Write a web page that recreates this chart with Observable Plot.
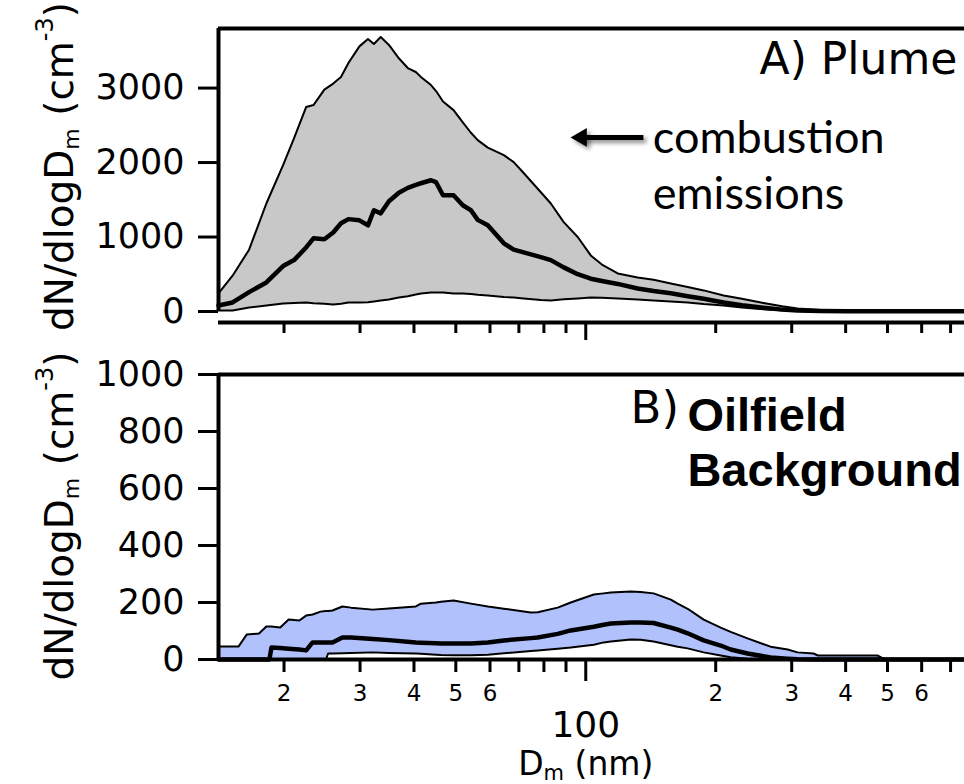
<!DOCTYPE html>
<html><head><meta charset="utf-8">
<script src="https://cdn.jsdelivr.net/npm/d3@7"></script>
<script src="https://cdn.jsdelivr.net/npm/@observablehq/plot@0.6"></script>
<style>
body{margin:0;background:#fff;}
#wrap{width:964px;height:784px;position:relative;overflow:hidden;background:#fff;}
#wrap svg{display:block;position:absolute;left:0;}
</style></head><body><div id="wrap"></div>
<script>
// ---------- Panel A: Plume ----------
const diamA = [14.1, 15.2, 16.6, 18.2, 19.9, 21.1, 22.5, 23.4, 24.8, 26.0, 27.1, 28.2, 29.9, 31.3, 32.3, 33.5, 35.0, 36.9, 38.7, 40.4, 41.5, 43.8, 45.0, 46.7, 49.4, 51.9, 54.2, 56.2, 59.3, 64.6, 68.1, 71.8, 78.7, 83.0, 88.9, 95.8, 102.7, 109, 118.6, 131.9, 143.6, 157.4, 172.2, 187.6, 208.6, 230, 258, 285, 309.5, 350, 404, 500, 600, 754];
const upperA = [242, 480, 830, 1450, 1964, 2328, 2745, 2772, 2980, 3060, 3148, 3337, 3560, 3660, 3592, 3686, 3579, 3400, 3269, 3216, 3150, 3040, 2960, 2820, 2704, 2540, 2400, 2301, 2200, 2099, 2005, 1860, 1601, 1450, 1200, 1000, 753, 630, 511, 455, 425, 377, 330, 283, 215, 170, 115, 70, 40, 20, 8, 5, 5, 5];
const medianA = [81, 121, 260, 390, 610, 690, 860, 982, 969, 1060, 1184, 1240, 1224, 1157, 1359, 1318, 1480, 1595, 1660, 1700, 1722, 1762, 1736, 1561, 1561, 1426, 1360, 1230, 1157, 915, 830, 794, 730, 690, 592, 500, 440, 410, 370, 309, 275, 245, 205, 170, 121, 85, 50, 25, 12, 5, 3, 2, 2, 2];
const lowerA = [13, 13, 54, 81, 108, 115, 121, 110, 105, 94, 105, 121, 121, 125, 135, 148, 160, 188, 205, 229, 240, 256, 256, 256, 242, 242, 235, 225, 215, 195, 188, 175, 155, 148, 165, 175, 188, 185, 175, 160, 148, 135, 121, 100, 81, 55, 30, 15, 8, 3, 2, 2, 2, 2];

// ---------- Panel B: Oilfield Background ----------
const diamB = [14.1, 15.7, 16.4, 17.5, 18.2, 18.5, 18.7, 19.6, 20.5, 21.7, 22.5, 23.3, 24.3, 25.0, 25.3, 25.9, 27.3, 28.6, 32.1, 35.0, 40.4, 41.5, 45.0, 46.2, 49.4, 54.2, 59.3, 64.6, 74.6, 77.4, 86.1, 92.3, 104.4, 110, 114.3, 127.1, 134, 143.6, 157.4, 163.3, 172.2, 187.6, 205.4, 216.6, 237, 268, 293.5, 309.5, 337, 345, 474, 487, 494, 754];
const upperB = [46, 46, 88, 91, 116, 116, 116, 112, 140, 137, 154, 158, 168, 170, 170, 172, 186, 182, 175, 179, 186, 196, 200, 203, 207, 196, 186, 178, 165, 166, 182, 200, 228, 232, 235, 239, 237, 232, 210, 196, 178, 140, 112, 97, 74, 45, 35, 25, 21, 14, 14, 5, 0, 0];
const medianB = [0, 0, 0, 0, 0, 0, 42, 40, 38, 35, 32, 60, 60, 60, 60, 60, 77, 77, 72, 68, 60, 59, 57, 56, 56, 56, 60, 67, 75, 77, 90, 102, 115, 122, 126, 130, 130, 128, 112, 105, 92, 67, 49, 35, 21, 7, 3, 1, 0, 0, 0, 0, 0, 0];
const lowerB = [0, 0, 0, 0, 0, 0, 0, 0, 0, 0, 0, 0, 0, 0, 21, 21, 22, 23, 25, 23, 21, 20, 17, 16, 15, 15, 17, 22, 30, 32, 38, 42, 52, 60, 63, 70, 69, 63, 50, 45, 39, 25, 14, 8, 3, 0, 0, 0, 0, 0, 0, 0, 0, 0];

// ---------- scales / ticks ----------
const xDomain = [14.1, 754];
const yDomainA = [-148, 3800];
const yDomainB = [0, 1000];
const yTicksA = [0, 1000, 2000, 3000];
const yTicksB = [0, 200, 400, 600, 800, 1000];
const minorTicks = [20, 30, 40, 50, 60, 70, 80, 90, 200, 300, 400, 500, 600, 700];
const majorTicks = [100];
const labeledTicks = [20, 30, 40, 50, 60, 200, 300, 400, 500, 600];
const tickLabels = ["2", "3", "4", "5", "6", "2", "3", "4", "5", "6"];

// ---------- annotations (data coordinates) ----------
const titleA = [{x: 726, y: 3376, text: "A) Plume"}];
const notesA = [{x: 143, y: 2320, text: "combustion"}, {x: 143, y: 1568, text: "emissions"}];
const arrowA = [{from: 136, to: 97.7, level: 2337}];
const titleB = [{x: 127, y: 882, text: "B)"}];
const notesB = [{x: 172, y: 856, text: "Oilfield"}, {x: 172, y: 663, text: "Background"}];
const yTitle = ["dN/dlogDm (cm-3)"];
const xTitle = [{x: 100, text: "Dm (nm)"}];

const W = 964;
const rowsA = diamA.map((d, i) => ({d, up: upperA[i], med: medianA[i], lo: lowerA[i]}));
const rowsB = diamB.map((d, i) => ({d, up: upperB[i], med: medianB[i], lo: lowerB[i]}));

const plotA = Plot.plot({
  width: W, height: 345,
  marginTop: 28, marginBottom: 23, marginLeft: 218, marginRight: 0,
  x: {type: "log", domain: xDomain, label: null},
  y: {domain: yDomainA, label: null},
  style: {fontFamily: "DejaVu Sans", color: "#000", background: "transparent"},
  marks: [
    Plot.areaY(rowsA, {x: "d", y1: "lo", y2: "up", fill: "#c8c8c8"}),
    Plot.lineY(rowsA, {x: "d", y: "up", stroke: "#000", strokeWidth: 2}),
    Plot.lineY(rowsA, {x: "d", y: "lo", stroke: "#000", strokeWidth: 2}),
    Plot.lineY(rowsA, {x: "d", y: "med", stroke: "#000", strokeWidth: 4.5}),
    Plot.ruleY([yDomainA[1]], {stroke: "#000", strokeWidth: 4}),
    Plot.ruleY([yDomainA[0]], {stroke: "#000", strokeWidth: 4}),
    Plot.ruleX([xDomain[0]], {y1: 0, y2: yDomainA[1], stroke: "#000", strokeWidth: 4}),
    Plot.axisY({ticks: yTicksA, tickSize: 20, tickPadding: 14, fontSize: 35, strokeWidth: 3, tickFormat: d => String(d), label: null}),
    Plot.axisX({ticks: minorTicks, tickSize: 11, strokeWidth: 3, tickFormat: () => "", label: null}),
    Plot.axisX({ticks: majorTicks, tickSize: 18, strokeWidth: 3, tickFormat: () => "", label: null}),
    Plot.link(arrowA, {x1: "from", x2: "to", y1: "level", y2: "level", stroke: "#000", strokeWidth: 5}),
    Plot.dot(arrowA, {x: "to", y: "level", symbol: "triangle", r: 7, rotate: -90, fill: "#000", stroke: "none"}),
    Plot.text(notesA, {x: "x", y: "y", text: "text", textAnchor: "start", fontFamily: "Lato", fontSize: 45, fill: "#000"}),
    Plot.text(titleA, {x: "x", y: "y", text: "text", textAnchor: "end", fontFamily: "DejaVu Sans", fontSize: 44, fill: "#000"}),
    Plot.text(yTitle, {frameAnchor: "left", textAnchor: "middle", lineAnchor: "middle", rotate: -90, dx: -158, dy: -9, fontSize: 39, fill: "#000"})
  ]
});

const plotB = Plot.plot({
  width: W, height: 439,
  marginTop: 29, marginBottom: 125, marginLeft: 218, marginRight: 0,
  x: {type: "log", domain: xDomain, label: null},
  y: {domain: yDomainB, label: null},
  style: {fontFamily: "DejaVu Sans", color: "#000", background: "transparent"},
  marks: [
    Plot.areaY(rowsB, {x: "d", y1: "lo", y2: "up", fill: "#b1c1fb"}),
    Plot.lineY(rowsB, {x: "d", y: "up", stroke: "#000", strokeWidth: 2}),
    Plot.lineY(rowsB, {x: "d", y: "lo", stroke: "#000", strokeWidth: 2}),
    Plot.lineY(rowsB, {x: "d", y: "med", stroke: "#000", strokeWidth: 4.5}),
    Plot.ruleY([yDomainB[1]], {stroke: "#000", strokeWidth: 4}),
    Plot.ruleY([yDomainB[0]], {stroke: "#000", strokeWidth: 4}),
    Plot.ruleX([xDomain[0]], {y1: yDomainB[0], y2: yDomainB[1], stroke: "#000", strokeWidth: 4}),
    Plot.axisY({ticks: yTicksB, tickSize: 20, tickPadding: 14, fontSize: 35, strokeWidth: 3, tickFormat: d => String(d), label: null}),
    Plot.axisX({ticks: minorTicks, tickSize: 13, strokeWidth: 3, tickFormat: () => "", label: null}),
    Plot.axisX({ticks: majorTicks, tickSize: 22, strokeWidth: 3, tickFormat: () => "", label: null}),
    Plot.axisX({ticks: labeledTicks, tickSize: 0, tickPadding: 25, fontSize: 23, tickFormat: d => tickLabels[labeledTicks.indexOf(d)], label: null}),
    Plot.axisX({ticks: majorTicks, tickSize: 0, tickPadding: 52, fontSize: 36, tickFormat: d => String(d), label: null}),
    Plot.text(xTitle, {x: "x", frameAnchor: "bottom", lineAnchor: "middle", text: "text", dy: 105, fontSize: 33, fill: "#000"}),
    Plot.text(titleB, {x: "x", y: "y", text: "text", textAnchor: "start", fontFamily: "DejaVu Sans", fontSize: 45, fill: "#000"}),
    Plot.text(notesB, {x: "x", y: "y", text: "text", textAnchor: "start", fontFamily: "Liberation Sans", fontWeight: "bold", fontSize: 47, fill: "#000"}),
    Plot.text(yTitle, {frameAnchor: "left", textAnchor: "middle", lineAnchor: "middle", rotate: -90, dx: -158, dy: -1, fontSize: 39, fill: "#000"})
  ]
});

function rich(svg, content, parts) {
  d3.select(svg).selectAll("text").filter(function() { return this.textContent === content; }).each(function() {
    const t = d3.select(this);
    t.text(null);
    parts.forEach(p => {
      const ts = t.append("tspan").text(p.t);
      if (p.s) ts.attr("font-size", p.s);
      if (p.dy) ts.attr("dy", p.dy);
    });
  });
}
const yParts = [{t: "dN/dlogD"}, {t: "m", s: 22, dy: 6}, {t: " (cm", dy: -6}, {t: "-3", s: 24, dy: -20}, {t: ")", dy: 20}];
rich(plotA, yTitle[0], yParts);
rich(plotB, yTitle[0], yParts);
rich(plotB, xTitle[0].text, [{t: "D"}, {t: "m", s: 21, dy: 5}, {t: " (nm)", dy: -5}]);
d3.select(plotA).selectAll('g[aria-label="link"], g[aria-label="dot"]').style("filter", "drop-shadow(3px 3px 2px rgba(0,0,0,0.45))");

plotA.style.top = "0px";
plotB.style.top = "345px";
const wrap = document.getElementById("wrap");
wrap.appendChild(plotA);
wrap.appendChild(plotB);
</script></body></html>
